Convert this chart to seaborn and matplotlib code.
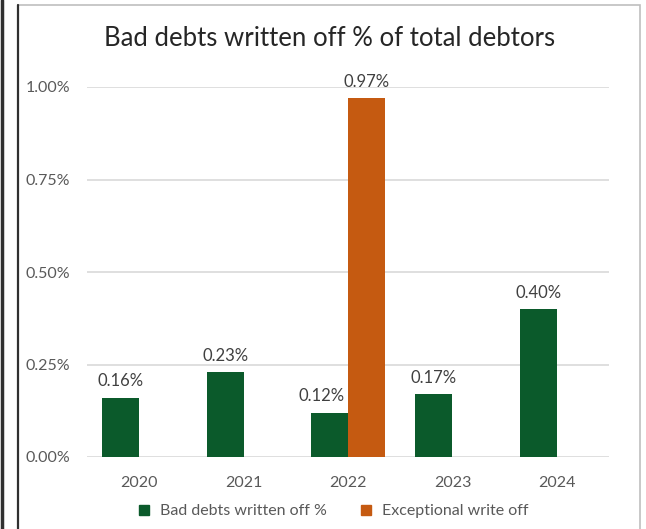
import matplotlib
matplotlib.use("Agg")
import matplotlib.pyplot as plt
import seaborn as sns
import pandas as pd
from matplotlib.patches import Rectangle
from matplotlib.lines import Line2D
from matplotlib.ticker import FuncFormatter

years = ["2020", "2021", "2022", "2023", "2024"]
bad_debts = [0.16, 0.23, 0.12, 0.17, 0.40]
exceptional_years = ["2022"]
exceptional = [0.97]
series_names = ["Bad debts written off %", "Exceptional write off"]
y_ticks = [0.0, 0.25, 0.5, 0.75, 1.0]
title = "Bad debts written off % of total debtors"

GREEN = "#0b5a2b"
ORANGE = "#c55a11"

rows = [{"Year": y, "Series": series_names[0], "Value": v} for y, v in zip(years, bad_debts)]
rows += [{"Year": y, "Series": series_names[1], "Value": v} for y, v in zip(exceptional_years, exceptional)]
df = pd.DataFrame(rows)

sns.set_theme(style="white")
plt.rcParams["font.family"] = ["Lato", "DejaVu Sans"]

W, H = 646, 529
fig = plt.figure(figsize=(W / 100, H / 100), dpi=100)
ax = fig.add_axes([87 / W, 1 - 457 / H, (609 - 87) / W, (457 - 87) / H])

sns.barplot(data=df, x="Year", y="Value", hue="Series", order=years,
            hue_order=series_names, palette=[GREEN, ORANGE], width=0.71,
            saturation=1, ax=ax, legend=False, errorbar=None, linewidth=0)

for ci, c in enumerate(ax.containers):
    anns = ax.bar_label(c, labels=[f"{b.get_height():.2f}%" for b in c], padding=6,
                        fontsize=12, color="#404040")
    if ci == 0:
        # nudge the label of a bar sitting next to a taller neighbour (as Excel does)
        for yr, a in zip(years, anns):
            if yr in exceptional_years:
                a.xyann = (-6, a.xyann[1])

ax.set_ylim(0, 1.0)
ax.set_xlim(-0.5, len(years) - 0.5)
ax.set_yticks(y_ticks)
ax.yaxis.set_major_formatter(FuncFormatter(lambda v, p: f"{v:.2f}%"))
ax.grid(axis="y", color="#d9d9d9", linewidth=1.2)
ax.set_axisbelow(True)
for s in ax.spines.values():
    s.set_visible(False)
ax.tick_params(axis="both", length=0, labelsize=11.5, labelcolor="#595959")
ax.tick_params(axis="y", pad=12)
ax.tick_params(axis="x", pad=14)
ax.set_xlabel("")
ax.set_ylabel("")

fig.text(330 / W, 1 - 38 / H, title, ha="center", va="center", fontsize=18.5, color="#262626")

handles = [Line2D([0], [0], marker="s", linestyle="", markersize=7, color=GREEN),
           Line2D([0], [0], marker="s", linestyle="", markersize=7, color=ORANGE)]
fig.legend(handles, series_names, loc="center", bbox_to_anchor=(333 / W, 1 - 511 / H),
           ncol=2, frameon=False, fontsize=11.5, labelcolor="#595959",
           handlelength=0.8, handletextpad=0.6, columnspacing=2.0)

# chart frame
fig.add_artist(Rectangle((18 / W, -0.01), (640 - 18) / W, 1 - 5 / H + 0.01,
                         transform=fig.transFigure, fill=False, edgecolor="#bfbfbf", linewidth=1.2))
fig.add_artist(Line2D([18 / W, 18 / W], [0, 1 - 5 / H], transform=fig.transFigure,
                      color="#303030", linewidth=1.6))
fig.add_artist(Line2D([2 / W, 2 / W], [0, 1], transform=fig.transFigure,
                      color="#303030", linewidth=2.5))

fig.savefig("out.png", dpi=100)
